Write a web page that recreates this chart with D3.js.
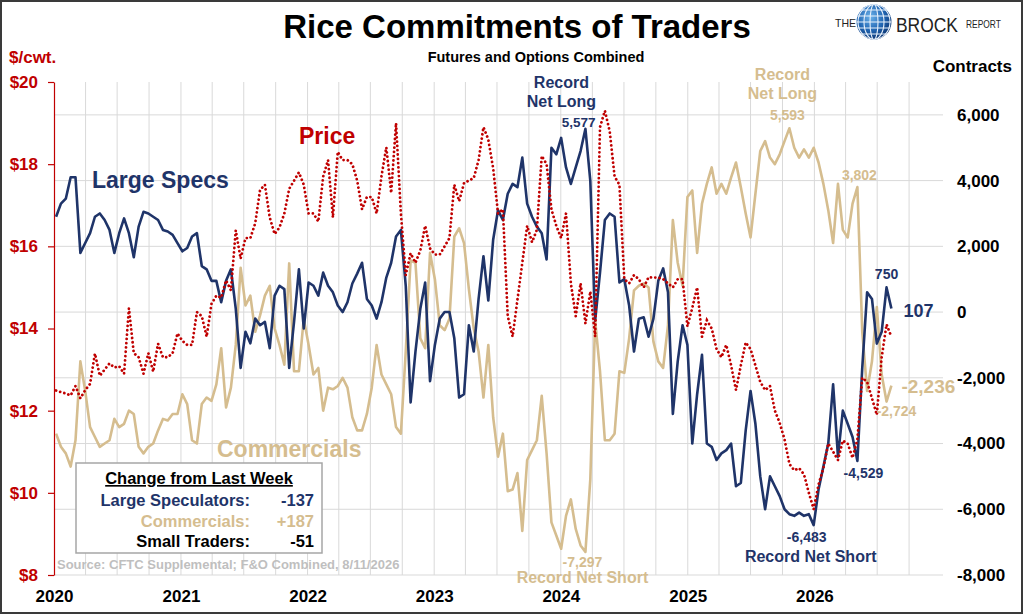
<!DOCTYPE html>
<html>
<head>
<meta charset="utf-8">
<script src="https://cdnjs.cloudflare.com/ajax/libs/d3/7.8.5/d3.min.js"></script>
<style>
  body { margin: 0; background: #fff; }
  svg { display: block; font-family: "Liberation Sans", Arial, sans-serif; font-weight: bold; }
  .grid line { stroke: #d9d9d9; stroke-width: 1; }
</style>
</head>
<body>
<div id="chart"></div>
<script>
// ---- data (one value every second week) ----
var firstWeek = "2020-01-07";
var stepDays = 14;

var largeSpecs = [
  2900, 3300, 3450, 4100, 4100, 1800, 2100, 2400, 2900, 3000,
  2800, 2500, 1800, 2400, 2850, 2400, 1670, 2600, 3050, 3000,
  2900, 2800, 2500, 2450, 2350, 2100, 1850, 1950, 2300, 2400,
  1400, 1300, 950, 950, 300, 950, 1300, 100, -1700, -600,
  -950, -200, -400, -300, -1100, 500, 800, 700, -1700, -300,
  1300, -500, 900, 800, 500, 1200, 800, 600, 200, 0,
  300, 870, 1170, 1500, 400, 200, -200, 300, 1050, 1500,
  2300, 2500, 800, -2750, -1200, 100, 900, -2100, -1000, -200,
  0, 0, -800, -2600, -2500, -400, -1200, 400, 1700, 350,
  2200, 3100, 2800, 3600, 3900, 3800, 4700, 3300, 2900, 2600,
  2400, 1600, 5000, 4800, 5300, 4400, 3900, 4400, 4900, 5577,
  4000, -260, 1200, 2800, 3000, 2900, 900, 1000, 200, -1200,
  -200, -160, -750, -200, 950, 1330, 600, -3100, -1500, -400,
  -1000, -4000, -2500, -1300, -4000, -4100, -4500, -4300, -4200, -4000,
  -5300, -5200, -3600, -2400, -3400, -5000, -6000, -5000, -5300, -5600,
  -6000, -6150, -6200, -6100, -6200, -6150, -6483, -5400, -4700, -4000,
  -2200, -4400, -3000, -3400, -3800, -4529, -1700, 600, 400, -960,
  -600, 750, 107
];

var commercials = [
  -3700, -4100, -4300, -4700, -3900, -1500, -2400, -3500, -3800, -4100,
  -4000, -3900, -3250, -3500, -3400, -3000, -3100, -4100, -4300, -4100,
  -4000, -3600, -3250, -3300, -3100, -3100, -2500, -2800, -3900, -4000,
  -2800, -2600, -2700, -2200, -1100, -2900, -2300, -1000, 1350, 200,
  500, -600, -100, 500, 800, -500, -1000, -1600, 1480, -1800,
  -1800, -200, -1000, -1900, -1700, -3000, -2300, -2350, -2250, -2000,
  -2300, -3200, -3600, -3600, -3100, -2300, -1000, -1900, -2200, -2500,
  -3500, -3700, -1200, 1570, 1500, -800, -1100, 1800, 1000, -400,
  -550, -200, 2300, 2550, 2100, 700, -500, -1200, -2600, -1000,
  -3200, -4400, -3700, -5450, -5400, -4900, -6660, -4500, -4200, -3900,
  -2550, -4300, -6400, -6800, -7200, -6200, -5700, -6600, -7100, -7297,
  -5100, -260, -1800, -3900, -3900, -3700, -1800, -1850, -800, 660,
  800, 870, 750, -900, -1500, -1700, -400, 2800, 1500, 800,
  3500, 3700, 1800, 3300, 3900, 4400, 3600, 3900, 3600, 4100,
  4550, 3800, 3000, 2270, 3600, 4900, 5200, 4700, 4500, 4800,
  5200, 5593, 5000, 4700, 4950, 4700, 5000, 4550, 3900, 3100,
  2100, 3900, 2500, 2270, 3300, 3802, -600, -2400, -1500, 150,
  -1900, -2724, -2236
];

var price = [
  12.49, 12.45, 12.42, 12.37, 12.6, 12.3, 12.5, 12.65, 13.39, 12.85,
  13.0, 13.15, 13.05, 13.08, 12.9, 14.49, 13.4, 13.3, 12.9, 13.4,
  12.95, 13.63, 13.3, 13.3, 13.4, 13.88, 13.7, 13.6, 13.6, 14.4,
  14.3, 13.8, 14.6, 14.8, 14.75, 15.17, 14.93, 16.39, 15.7, 16.2,
  16.2, 16.56, 17.37, 17.5, 16.7, 16.3, 16.46, 16.8, 17.4, 17.6,
  17.8, 17.5, 16.8, 16.8, 16.6, 17.7, 18.1, 16.7, 18.3, 18.1,
  18.1, 18.0, 17.6, 16.9, 17.2, 17.2, 16.8, 17.7, 18.41, 17.3,
  19.0, 16.8, 15.3, 15.83, 15.6, 15.9, 16.5, 15.95, 15.8, 15.8,
  16.0, 16.2, 17.5, 17.1, 17.54, 17.6, 17.66, 18.1, 18.9, 18.6,
  17.9, 16.8, 16.9, 14.3, 13.8, 14.7, 15.6, 16.5, 16.1, 16.4,
  18.2, 18.0, 16.9, 16.5, 16.2, 16.8, 15.1, 14.3, 15.1, 14.12,
  14.9, 13.8, 18.9, 19.3, 18.8, 17.7, 17.5, 15.2, 15.1, 15.3,
  15.2, 15.0, 15.25, 15.24, 15.24, 15.2, 15.1, 15.0, 15.2, 15.2,
  14.05, 14.5, 15.0, 13.8, 14.2, 14.0, 13.5, 13.3, 13.6, 13.1,
  12.5, 13.1, 13.66, 13.5, 13.1, 12.7, 12.5, 12.6, 12.0, 11.7,
  11.3, 10.7, 10.55, 10.6, 10.45, 10.0, 9.6, 10.2, 10.6, 11.2,
  11.0, 10.8, 11.27, 11.2, 10.85, 11.3, 12.8, 12.7, 12.3, 11.9,
  13.3, 14.1, 13.8
];

var yearLabels = ["2020", "2021", "2022", "2023", "2024", "2025", "2026"];
var priceTicks = [8, 10, 12, 14, 16, 18, 20];
var contractTicks = [-8000, -6000, -4000, -2000, 0, 2000, 4000, 6000];

var changeRows = ["Large Speculators:", "Commercials:", "Small Traders:"];
var changeValues = ["-137", "+187", "-51"];

// ---- colours ----
var navy = "#1f3469", tan = "#d5bd8f", red = "#c00000";

var W = 1024, H = 615;
var margin = { top: 82, right: 83, bottom: 40, left: 54 },
    width = W - margin.left - margin.right,
    height = H - margin.top - margin.bottom;

var parseDay = d3.timeParse("%Y-%m-%d");
var start = parseDay(firstWeek);
var dates = largeSpecs.map(function (d, i) { return d3.timeDay.offset(start, i * stepDays); });

var fmt = d3.formatLocale({ decimal: ".", thousands: ",", grouping: [3], currency: ["$", ""], minus: "-" }).format(",");

var svg = d3.select("#chart").append("svg")
    .attr("width", W)
    .attr("height", H);

svg.append("rect").attr("width", W).attr("height", H).attr("fill", "#fff");

var g = svg.append("g")
    .attr("transform", "translate(" + margin.left + "," + margin.top + ")");

var x = d3.scaleTime()
    .domain([new Date(2020, 0, 1), new Date(2027, 0, 1)])
    .range([0, width]);
var yP = d3.scaleLinear().domain([8, 20]).range([height, 0]);
var yC = d3.scaleLinear().domain([-8000, 7000]).range([height, 0]);

// gridlines
var grid = g.append("g").attr("class", "grid");
grid.selectAll(".h").data(contractTicks).join("line")
    .attr("class", "h")
    .attr("x1", 0).attr("x2", width + 2)
    .attr("y1", function (d) { return yC(d); })
    .attr("y2", function (d) { return yC(d); });
grid.selectAll(".v").data(d3.timeMonth.every(3).range(new Date(2020, 3, 1), new Date(2027, 0, 1))).join("line")
    .attr("class", "v")
    .attr("x1", function (d) { return x(d); }).attr("x2", function (d) { return x(d); })
    .attr("y1", 0).attr("y2", height);

// left price axis
var leftAxis = g.append("g")
    .call(d3.axisLeft(yP).tickValues(priceTicks).tickSize(6).tickSizeOuter(0).tickPadding(10)
        .tickFormat(function (d) { return "$" + d; }));
leftAxis.select(".domain").attr("stroke", red).attr("stroke-width", 1.2);
leftAxis.selectAll(".tick line").attr("stroke", red).attr("stroke-width", 1.2);
leftAxis.selectAll("text").attr("fill", red).style("font-size", "17px").style("font-weight", "bold")
    .style("font-family", "'Liberation Sans', Arial, sans-serif");

// right contracts axis
var rightAxis = g.append("g")
    .attr("transform", "translate(" + width + ",0)")
    .call(d3.axisRight(yC).tickValues(contractTicks).tickSize(0).tickPadding(16).tickFormat(fmt));
rightAxis.select(".domain").remove();
rightAxis.selectAll("text").attr("fill", "#000").style("font-size", "17px").style("font-weight", "bold")
    .style("font-family", "'Liberation Sans', Arial, sans-serif");

// bottom year axis
var bottomAxis = g.append("g")
    .attr("transform", "translate(0," + height + ")")
    .call(d3.axisBottom(x)
        .tickValues(yearLabels.map(function (y) { return new Date(+y, 0, 1); }))
        .tickSize(0).tickPadding(15)
        .tickFormat(d3.timeFormat("%Y")));
bottomAxis.select(".domain").remove();
bottomAxis.selectAll("text").attr("fill", "#000").style("font-size", "17px").style("font-weight", "bold")
    .style("font-family", "'Liberation Sans', Arial, sans-serif");

// series
var lineC = d3.line()
    .x(function (d, i) { return x(dates[i]); })
    .y(function (d) { return yC(d); });
var lineP = d3.line()
    .x(function (d, i) { return x(dates[i]); })
    .y(function (d) { return yP(d); });

g.append("path").datum(commercials)
    .attr("d", lineC).attr("fill", "none")
    .attr("stroke", tan).attr("stroke-width", 2.6).attr("stroke-linejoin", "round");
g.append("path").datum(largeSpecs)
    .attr("d", lineC).attr("fill", "none")
    .attr("stroke", navy).attr("stroke-width", 2.6).attr("stroke-linejoin", "round");
g.append("path").datum(price)
    .attr("d", lineP).attr("fill", "none")
    .attr("stroke", red).attr("stroke-width", 2.8)
    .attr("stroke-linecap", "round").attr("stroke-dasharray", "0.01 4.3");

// legend box with weekly change
var box = g.append("g");
var bx = 76 - margin.left, by = 463 - margin.top;
box.append("rect")
    .attr("x", bx).attr("y", by).attr("width", 246).attr("height", 90)
    .attr("fill", "#fff").attr("stroke", "#a6a6a6").attr("stroke-width", 1.5);
box.append("text")
    .attr("x", bx + 123).attr("y", by + 21)
    .attr("text-anchor", "middle").style("font-size", "16.5px")
    .attr("text-decoration", "underline").attr("fill", "#000")
    .text("Change from Last Week");
var rowColors = [navy, tan, "#000"];
changeRows.forEach(function (label, i) {
    box.append("text")
        .attr("x", bx + 174).attr("y", by + 43 + i * 20.5)
        .attr("text-anchor", "end").attr("fill", rowColors[i]).style("font-size", "16.5px")
        .text(label);
    box.append("text")
        .attr("x", bx + 238).attr("y", by + 43 + i * 20.5)
        .attr("text-anchor", "end").attr("fill", rowColors[i]).style("font-size", "16.5px")
        .text(changeValues[i]);
});

// source note
g.append("text")
    .attr("x", 57 - margin.left).attr("y", 569 - margin.top)
    .attr("fill", "#bfbfbf").style("font-size", "13px")
    .text("Source: CFTC Supplemental; F&O Combined, 8/11/2026");

// series names
g.append("text").attr("x", 92 - margin.left).attr("y", 188 - margin.top)
    .attr("fill", navy).style("font-size", "23px").text("Large Specs");
g.append("text").attr("x", 299 - margin.left).attr("y", 144 - margin.top)
    .attr("fill", red).style("font-size", "23px").text("Price");
g.append("text").attr("x", 217 - margin.left).attr("y", 457 - margin.top)
    .attr("fill", tan).style("font-size", "23px").text("Commercials");

// point annotations, anchored on the series values
var notes = [
    { s: largeSpecs, i: 109, c: navy, size: 13.5, a: "end", dx: 10, dy: -2, t: ["5,577"] },
    { s: largeSpecs, i: 109, c: navy, size: 16, a: "middle", dx: -24, dy: -41, t: ["Record", "Net Long"] },
    { s: commercials, i: 151, c: tan, size: 14, a: "middle", dx: -2, dy: -8, t: ["5,593"] },
    { s: commercials, i: 151, c: tan, size: 16, a: "middle", dx: -7, dy: -48, t: ["Record", "Net Long"] },
    { s: commercials, i: 165, c: tan, size: 14, a: "middle", dx: 2, dy: -7, t: ["3,802"] },
    { s: largeSpecs, i: 171, c: navy, size: 14, a: "middle", dx: 0, dy: -8, t: ["750"] },
    { s: largeSpecs, i: 172, c: navy, size: 18, a: "start", dx: 12, dy: 8, t: ["107"] },
    { s: commercials, i: 172, c: tan, size: 19, a: "start", dx: 10, dy: 7, t: ["-2,236"] },
    { s: commercials, i: 171, c: tan, size: 14, a: "middle", dx: 10, dy: 14, t: ["-2,724"] },
    { s: largeSpecs, i: 165, c: navy, size: 14, a: "middle", dx: 6, dy: 17, t: ["-4,529"] },
    { s: largeSpecs, i: 156, c: navy, size: 14, a: "middle", dx: -7, dy: 17, t: ["-6,483"] },
    { s: largeSpecs, i: 156, c: navy, size: 16, a: "middle", dx: -3, dy: 37, t: ["Record Net Short"] },
    { s: commercials, i: 109, c: tan, size: 14, a: "middle", dx: -3, dy: 15, t: ["-7,297"] },
    { s: commercials, i: 109, c: tan, size: 16, a: "middle", dx: -3, dy: 31, t: ["Record Net Short"] }
];
notes.forEach(function (n) {
    var px = x(dates[n.i]) + n.dx, py = yC(n.s[n.i]) + n.dy;
    var txt = g.append("text")
        .attr("text-anchor", n.a).attr("fill", n.c).style("font-size", n.size + "px");
    n.t.forEach(function (line, k) {
        txt.append("tspan").attr("x", px).attr("y", py + k * 19).text(line);
    });
});

// titles
svg.append("text").attr("x", 517).attr("y", 38).attr("text-anchor", "middle")
    .style("font-size", "33px").attr("fill", "#000").text("Rice Commitments of Traders");
svg.append("text").attr("x", 536).attr("y", 62).attr("text-anchor", "middle")
    .style("font-size", "14.5px").attr("fill", "#000").text("Futures and Options Combined");
svg.append("text").attr("x", 9).attr("y", 63)
    .style("font-size", "17px").attr("fill", red).text("$/cwt.");
svg.append("text").attr("x", 1012).attr("y", 72).attr("text-anchor", "end")
    .style("font-size", "17px").attr("fill", "#000").text("Contracts");

// logo
var defs = svg.append("defs");
var grad = defs.append("radialGradient").attr("id", "globe")
    .attr("cx", "40%").attr("cy", "35%").attr("r", "70%");
grad.append("stop").attr("offset", "0%").attr("stop-color", "#6cb2ea");
grad.append("stop").attr("offset", "55%").attr("stop-color", "#2166b3");
grad.append("stop").attr("offset", "100%").attr("stop-color", "#0b2f6a");
defs.append("clipPath").attr("id", "globeClip")
    .append("circle").attr("cx", 874).attr("cy", 22).attr("r", 17.5);

var logo = svg.append("g").attr("fill", "#222").style("font-weight", "normal");
logo.append("circle").attr("cx", 874).attr("cy", 22).attr("r", 17.5).attr("fill", "url(#globe)");
var mesh = logo.append("g").attr("clip-path", "url(#globeClip)")
    .attr("stroke", "#e8f1fb").attr("stroke-width", 1.1).attr("fill", "none");
[-12, -6, 0, 6, 12].forEach(function (o) {
    mesh.append("line").attr("x1", 856).attr("x2", 892).attr("y1", 22 + o).attr("y2", 22 + o);
});
[4, 10, 16].forEach(function (rx) {
    mesh.append("ellipse").attr("cx", 874).attr("cy", 22).attr("rx", rx).attr("ry", 17.5);
});
logo.append("text").attr("x", 835).attr("y", 27).style("font-size", "10.5px").text("THE");
// condensed wordmark: squeeze horizontally
logo.append("text").attr("transform", "translate(896,32) scale(0.83,1)")
    .style("font-size", "21px").text("BROCK");
logo.append("text").attr("transform", "translate(966,28) scale(0.8,1)")
    .style("font-size", "10.5px").text("REPORT");

// outer frame
svg.append("rect").attr("x", 1).attr("y", 1).attr("width", W - 3).attr("height", H - 3)
    .attr("fill", "none").attr("stroke", "#3a3a3a").attr("stroke-width", 2);
</script>
</body>
</html>
